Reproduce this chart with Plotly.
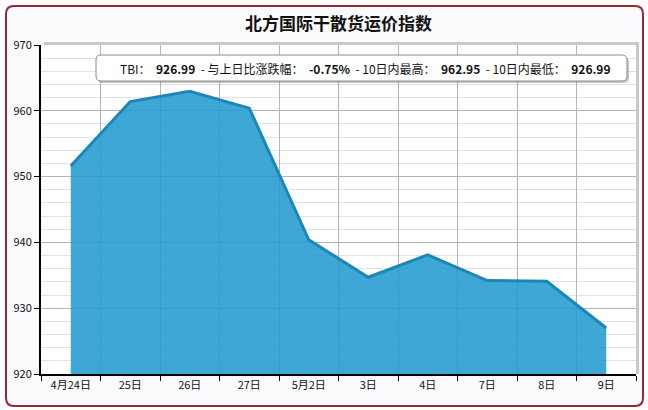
import plotly.graph_objects as go

# 北方国际干散货运价指数 (TBI), last 10 trading days
dates = ["4月24日", "25日", "26日", "27日", "5月2日", "3日", "4日", "7日", "8日", "9日"]
tbi = [951.6, 961.4, 962.95, 960.4, 940.4, 934.7, 938.1, 934.2, 934.1, 926.99]

latest = 926.99
change_pct = "-0.75%"
high_10d = 962.95
low_10d = 926.99

W, H = 648, 410
L, R, T, B = 41, 12, 45, 36
pw, ph = W - L - R, H - T - B


def px(x, y):
    # pixel position -> paper coords
    return (x - L) / pw, (H - B - y) / ph


def round_rect(x0, y0, x1, y1, r):
    a0, b0 = px(x0, y0)
    a1, b1 = px(x1, y1)
    rx, ry = r / pw, r / ph
    return (f"M{a0 + rx},{b0} L{a1 - rx},{b0} Q{a1},{b0} {a1},{b0 - ry} "
            f"L{a1},{b1 + ry} Q{a1},{b1} {a1 - rx},{b1} "
            f"L{a0 + rx},{b1} Q{a0},{b1} {a0},{b1 + ry} "
            f"L{a0},{b0 - ry} Q{a0},{b0} {a0 + rx},{b0} Z")


fig = go.Figure()
fig.add_trace(go.Scatter(
    x=dates, y=tbi, mode="lines", fill="tozeroy",
    line=dict(color="#1b87b6", width=3),
    fillcolor="rgba(30,153,206,0.86)",
    hoverinfo="x+y", showlegend=False,
))

shapes = [
    # outer frame
    dict(type="path", xref="paper", yref="paper", layer="below",
         path=round_rect(6, 6, 643, 406, 8),
         line=dict(color="#9a2832", width=2), fillcolor="#fbfafd"),
    # plot area shadow
    dict(type="rect", xref="paper", yref="paper", layer="below",
         x0=px(44, 0)[0], x1=px(639, 0)[0], y0=px(0, 374)[1], y1=px(0, 42)[1],
         line=dict(width=0), fillcolor="#c8c8c8"),
    dict(type="rect", xref="paper", yref="paper", layer="below",
         x0=0, x1=1, y0=0, y1=1, line=dict(width=0), fillcolor="white"),
    # info box shadow + box
    dict(type="path", xref="paper", yref="paper", layer="above",
         path=round_rect(98, 57, 629, 83, 5),
         line=dict(width=0), fillcolor="rgba(120,120,120,0.4)"),
    dict(type="path", xref="paper", yref="paper", layer="above",
         path=round_rect(96, 55, 627, 81, 5),
         line=dict(color="#8a8a8a", width=1), fillcolor="white"),
]

bx, by = px(366, 68)
info = (f"TBI：  <b>{latest:.2f}</b>  - 与上日比涨跌幅：  <b>{change_pct}</b>"
        f"  - 10日内最高：  <b>{high_10d:.2f}</b>  - 10日内最低：  <b>{low_10d:.2f}</b>")

fig.update_layout(
    width=W, height=H,
    margin=dict(l=L, r=R, t=T, b=B),
    paper_bgcolor="white", plot_bgcolor="rgba(0,0,0,0)",
    font=dict(family="Noto Sans CJK SC, sans-serif", size=11, color="#111"),
    title=dict(text="<b>北方国际干散货运价指数</b>", x=0.5, xref="paper",
               y=1 - 24 / H, yanchor="middle",
               font=dict(size=17, color="#111")),
    shapes=shapes,
    annotations=[dict(text=info, x=bx, y=by, xref="paper", yref="paper",
                      xanchor="center", yanchor="middle",
                      showarrow=False, font=dict(size=12, color="#111"))],
    xaxis=dict(
        type="category", tickson="boundaries", range=[-0.5, 9.5],
        showgrid=True, gridcolor="#b4b4b4", gridwidth=1,
        showline=True, linecolor="black", linewidth=2,
        ticks="outside", ticklen=5, tickcolor="black", tickwidth=1,
        tickfont=dict(size=11), fixedrange=True,
    ),
    yaxis=dict(
        range=[920, 970], dtick=10, tick0=920,
        showgrid=True, gridcolor="#b4b4b4", gridwidth=1,
        minor=dict(dtick=2, showgrid=True, gridcolor="#e2e2e2", gridwidth=1),
        showline=True, linecolor="black", linewidth=2, zeroline=False,
        ticks="outside", ticklen=5, tickcolor="black",
        tickfont=dict(size=11), fixedrange=True,
    ),
)

fig.write_html("out.html", config={"displayModeBar": False},
               post_script="document.body.style.margin='0';")
